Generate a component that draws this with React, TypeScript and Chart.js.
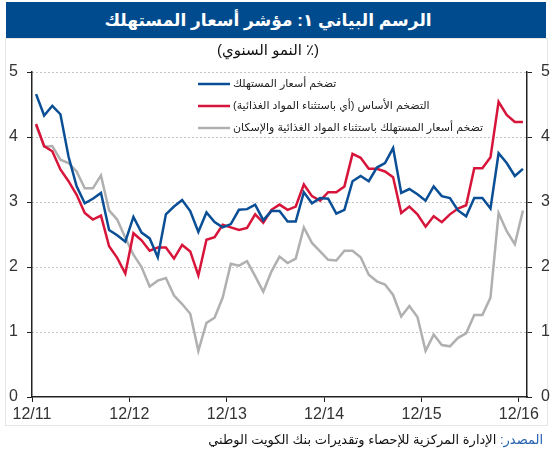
import { useEffect, useRef } from 'react';
import { Chart, registerables } from 'chart.js';

Chart.register(...registerables);

const FONT = '"Liberation Sans", Arial, "DejaVu Sans", sans-serif';

const xLabels = ['12/11', '12/12', '12/13', '12/14', '12/15', '12/16'];
const xTickMonths = [0, 12, 24, 36, 48, 60];
const monthCount = 61;

const seriesLabels = [
  'تضخم أسعار المستهلك',
  'التضخم الأساس (أي باستثناء المواد الغذائية)',
  'تضخم أسعار المستهلك باستثناء المواد الغذائية والإسكان',
];

const cpi = [
  4.66, 4.33, 4.48, 4.35, 3.70, 3.24, 2.98, 3.05, 3.14, 2.57, 2.49, 2.39,
  2.77, 2.53, 2.44, 2.15, 2.81, 2.93, 3.03, 2.86, 2.54, 2.84, 2.69, 2.61,
  2.66, 2.88, 2.89, 2.96, 2.72, 2.86, 2.86, 2.70, 2.70, 3.15, 2.98, 3.06,
  3.05, 2.82, 2.88, 3.32, 3.40, 3.32, 3.53, 3.60, 3.83, 3.14, 3.20, 3.12,
  3.02, 3.24, 3.09, 3.06, 2.87, 2.78, 3.06, 3.06, 2.90, 3.75, 3.60, 3.40,
  3.51,
];

const core = [
  4.20, 3.86, 3.78, 3.50, 3.32, 3.11, 2.83, 2.73, 2.79, 2.32, 2.14, 1.90,
  2.52, 2.41, 2.25, 2.30, 2.30, 2.13, 2.34, 2.24, 1.87, 2.42, 2.46, 2.65,
  2.61, 2.57, 2.60, 2.81, 2.68, 2.88, 2.96, 2.88, 2.93, 3.27, 3.09, 3.02,
  3.15, 3.15, 3.24, 3.74, 3.68, 3.51, 3.51, 3.47, 3.38, 2.83, 2.93, 2.81,
  2.62, 2.78, 2.69, 2.81, 2.90, 2.95, 3.52, 3.52, 3.69, 4.54, 4.34, 4.23,
  4.23,
];

const exFoodHousing = [
  4.18, 3.85, 3.86, 3.65, 3.60, 3.47, 3.21, 3.21, 3.41, 2.87, 2.73, 2.45,
  2.19, 2.00, 1.70, 1.79, 1.83, 1.56, 1.43, 1.28, 0.71, 1.14, 1.22, 1.53,
  2.05, 2.02, 2.09, 1.86, 1.62, 1.93, 2.16, 2.06, 2.13, 2.61, 2.37, 2.24,
  2.11, 2.10, 2.25, 2.25, 2.15, 1.88, 1.78, 1.73, 1.57, 1.24, 1.40, 1.23,
  0.71, 0.96, 0.80, 0.78, 0.91, 0.98, 1.26, 1.26, 1.53, 2.83, 2.55, 2.35,
  2.87,
];

const colors = ['#0A4F96', '#D7153A', '#B0B0B0'];

const toPoints = (arr: number[]) => arr.map((v, i) => ({ x: i + 0.5, y: v }));

export default function App() {
  const ref = useRef<HTMLCanvasElement>(null);

  useEffect(() => {
    if (!ref.current) return;

    const legendPlugin = {
      id: 'inlineLegend',
      afterDatasetsDraw(chart: any) {
        const { ctx, chartArea } = chart;
        ctx.save();
        ctx.font = '11px ' + FONT;
        ctx.textBaseline = 'middle';
        ctx.textAlign = 'left';
        (ctx as any).direction = 'rtl';
        chart.data.datasets.forEach((ds: any, i: number) => {
          const y = chartArea.top + 12 + i * 22;
          const x0 = chartArea.left + 166;
          ctx.strokeStyle = ds.borderColor;
          ctx.lineWidth = 2.5;
          ctx.beginPath();
          ctx.moveTo(x0, y);
          ctx.lineTo(x0 + 32, y);
          ctx.stroke();
          ctx.fillStyle = '#222';
          ctx.fillText(ds.label, x0 + 35, y);
        });
        ctx.restore();
      },
    };

    const yCommon = {
      min: 0,
      max: 5,
      ticks: { stepSize: 1, font: { size: 16, family: FONT }, color: '#333', padding: 9 },
      grid: { drawOnChartArea: false, drawTicks: true, tickLength: 5, color: '#222', lineWidth: 1 },
      border: { color: '#222', width: 1.5 },
    };

    const chart = new Chart(ref.current, {
      type: 'line',
      data: {
        datasets: [
          { label: seriesLabels[0], data: toPoints(cpi), borderColor: colors[0], backgroundColor: colors[0] },
          { label: seriesLabels[1], data: toPoints(core), borderColor: colors[1], backgroundColor: colors[1] },
          { label: seriesLabels[2], data: toPoints(exFoodHousing), borderColor: colors[2], backgroundColor: colors[2] },
        ].map((d) => ({
          ...d,
          yAxisID: 'y',
          borderWidth: 2.5,
          pointRadius: 0,
          tension: 0,
          fill: false,
        })),
      },
      options: {
        responsive: false,
        animation: false,
        devicePixelRatio: 1,
        layout: { padding: { top: 72, left: 0, right: 0, bottom: 0 } },
        plugins: { legend: { display: false }, tooltip: { enabled: false } },
        scales: {
          x: {
            type: 'linear',
            min: 0,
            max: monthCount,
            afterBuildTicks: (s: any) => {
              s.ticks = xTickMonths.map((v) => ({ value: v }));
            },
            ticks: {
              callback: (v: any) => xLabels[xTickMonths.indexOf(Number(v))],
              font: { size: 16, family: FONT },
              color: '#333',
              padding: 3,
              maxRotation: 0,
              autoSkip: false,
            },
            grid: { drawOnChartArea: false, drawTicks: true, tickLength: 5, color: '#222', lineWidth: 1 },
            border: { color: '#222', width: 1.5 },
            afterFit: (s: any) => {
              s.height = 62;
            },
          },
          y: {
            ...yCommon,
            position: 'left',
            afterFit: (s: any) => {
              s.width = 32;
            },
          },
          y2: {
            ...yCommon,
            position: 'right',
            afterFit: (s: any) => {
              s.width = 25;
            },
          },
          yGrid: {
            position: 'left',
            min: 0,
            max: 5,
            ticks: { display: false, stepSize: 1 },
            grid: {
              drawOnChartArea: true,
              drawTicks: false,
              lineWidth: 1,
              color: (c: any) => (c.tick && c.tick.value === 0 ? 'rgba(0,0,0,0)' : '#c4c4c4'),
            },
            border: { display: false, dash: [2, 2] },
            afterFit: (s: any) => {
              s.width = 0;
            },
          },
        },
      } as any,
      plugins: [legendPlugin],
    });

    return () => chart.destroy();
  }, []);

  return (
    <div style={{ position: 'absolute', left: 0, top: 0, width: 552, height: 459, background: '#fff', overflow: 'hidden' }}>
      <div style={{ position: 'absolute', left: 5, top: 38, width: 541, height: 386, border: '1px solid #e6e6e6' }} />
      <canvas ref={ref} width={552} height={459} style={{ position: 'absolute', left: 0, top: 0 }} />
      <div
        dir="rtl"
        style={{
          position: 'absolute', left: 6, top: 2, width: 540, height: 36, background: '#004B8D', color: '#fff',
          font: `bold 17px ${FONT}`, display: 'flex', alignItems: 'center', justifyContent: 'center', boxSizing: 'border-box', paddingRight: 16,
        }}
      >
        الرسم البياني ١: مؤشر أسعار المستهلك
      </div>
      <div dir="rtl" style={{ position: 'absolute', left: 0, top: 41, width: 536, textAlign: 'center', font: `15px ${FONT}`, color: '#111' }}>
        (٪ النمو السنوي)
      </div>
      <div dir="rtl" style={{ position: 'absolute', right: 9, top: 432, font: `13px ${FONT}`, color: '#111', whiteSpace: 'nowrap' }}>
        <span style={{ color: '#2461AE' }}>المصدر:</span> الإدارة المركزية للإحصاء وتقديرات بنك الكويت الوطني
      </div>
    </div>
  );
}
